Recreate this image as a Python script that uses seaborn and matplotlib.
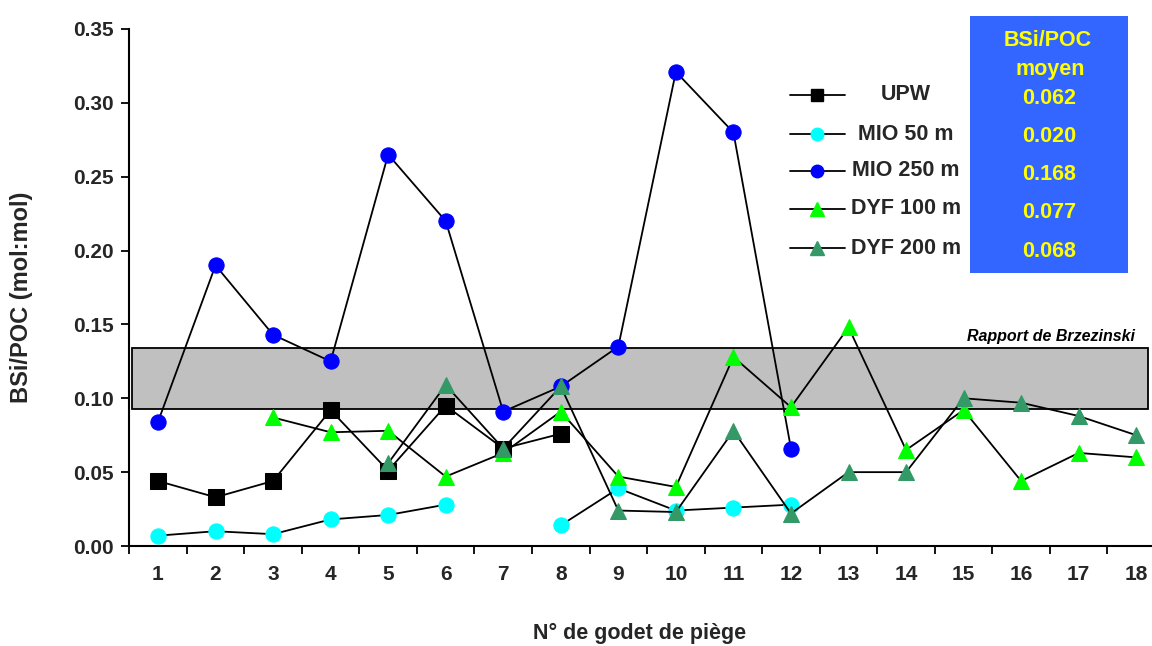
import numpy as np
import pandas as pd
import matplotlib
matplotlib.use("Agg")
import matplotlib.pyplot as plt
from matplotlib.lines import Line2D
from matplotlib.patches import Rectangle
import seaborn as sns

nan = np.nan
godets = list(range(1, 19))
upw = [0.044, 0.033, 0.044, 0.092, 0.051, 0.095, 0.066, 0.076, nan, nan, nan, nan, nan, nan, nan, nan, nan, nan]
mio50 = [0.007, 0.010, 0.008, 0.018, 0.021, 0.028, nan, 0.014, 0.039, 0.024, 0.026, 0.028, nan, nan, nan, nan, nan, nan]
mio250 = [0.084, 0.190, 0.143, 0.125, 0.265, 0.220, 0.091, 0.108, 0.135, 0.321, 0.280, 0.066, nan, nan, nan, nan, nan, nan]
dyf100 = [nan, nan, 0.087, 0.077, 0.078, 0.047, 0.063, 0.091, 0.047, 0.040, 0.128, 0.094, 0.148, 0.065, 0.092, 0.044, 0.063, 0.060]
dyf200 = [nan, nan, nan, nan, 0.056, 0.109, 0.066, 0.108, 0.024, 0.023, 0.078, 0.022, 0.050, 0.050, 0.100, 0.097, 0.088, 0.075]

series_names = ["UPW", "MIO 50 m", "MIO 250 m", "DYF 100 m", "DYF 200 m"]
moyennes = ["0.062", "0.020", "0.168", "0.077", "0.068"]
brzezinski = (0.093, 0.134)

styles = {
    "UPW": dict(marker="s", color="black", ms=11),
    "MIO 50 m": dict(marker="o", color="#00FFFF", ms=11),
    "MIO 250 m": dict(marker="o", color="#0000FF", ms=11),
    "DYF 100 m": dict(marker="^", color="#00FF00", ms=12),
    "DYF 200 m": dict(marker="^", color="#339966", ms=12),
}

values = dict(zip(series_names, [upw, mio50, mio250, dyf100, dyf200]))

sns.set_theme(style="ticks")
plt.rcParams["font.family"] = ["Liberation Sans", "DejaVu Sans"]
plt.rcParams["font.weight"] = "bold"

fig = plt.figure(figsize=(11.52, 6.46), dpi=100)
ax = fig.add_axes([129.2 / 1152, 1 - 546 / 646, (1165 - 129.2) / 1152, (546 - 29) / 646])

# Brzezinski band
ax.add_patch(Rectangle((0.55, brzezinski[0]), 18.2 - 0.55, brzezinski[1] - brzezinski[0],
                       facecolor="#C0C0C0", edgecolor="black", lw=1.3, zorder=1))
ax.text(17.98, brzezinski[1] + 0.003, "Rapport de Brzezinski", ha="right", va="bottom",
        fontsize=11.5, style="italic", fontweight="bold", color="black")

for name in series_names:
    vals = np.array(values[name], dtype=float)
    df = pd.DataFrame({"godet": godets, "val": vals})
    df["seg"] = np.cumsum(np.isnan(vals))
    df = df.dropna()
    st = styles[name]
    sns.lineplot(data=df, x="godet", y="val", units="seg", estimator=None, ax=ax,
                 color="black", lw=1.3, marker=st["marker"], markersize=st["ms"],
                 markerfacecolor=st["color"], markeredgecolor=st["color"], zorder=3,
                 legend=False)

ax.set_xlim(0.5, 18.5)
ax.set_ylim(0, 0.35)
yt = np.arange(0, 0.351, 0.05)
ax.set_yticks(yt)
ax.set_yticklabels([f"{v:.2f}" for v in yt])
ax.set_xticks(godets)
ax.set_xticklabels([str(g) for g in godets])
ax.set_xticks(np.arange(0.5, 18.6, 1), minor=True)
ax.tick_params(axis="x", which="major", length=0, pad=14, labelsize=15)
ax.tick_params(axis="x", which="minor", length=6, width=1.3, direction="out", color="black")
ax.tick_params(axis="y", length=6, width=1.3, direction="out", labelsize=15, color="black", pad=5)
for lab in ax.get_xticklabels() + ax.get_yticklabels():
    lab.set_fontweight("bold")
sns.despine(ax=ax)
for sp in ["left", "bottom"]:
    ax.spines[sp].set_linewidth(1.5)
    ax.spines[sp].set_color("black")
ax.set_xlabel("")
ax.set_ylabel("")

fig.text(640 / 1152, 1 - 633 / 646, "N° de godet de piège", ha="center", va="center",
         fontsize=15.5, fontweight="bold")
fig.text(22 / 1152, 1 - 297 / 646, "BSi/POC (mol:mol)", ha="center", va="center",
         rotation=90, fontsize=17, fontweight="bold")

# legend drawn manually
leg_y = [95, 134, 171, 209, 248]
for name, yp in zip(series_names, leg_y):
    st = styles[name]
    yf = 1 - yp / 646
    fig.add_artist(Line2D([790 / 1152, 845 / 1152], [yf, yf], color="black", lw=1.3,
                          transform=fig.transFigure))
    fig.add_artist(Line2D([817 / 1152], [yf], marker=st["marker"], markersize=st["ms"] - 2,
                          markerfacecolor=st["color"], markeredgecolor=st["color"],
                          linestyle="none", transform=fig.transFigure))
    fig.text(906 / 1152, yf, name, ha="center", va="center", fontsize=15.5, fontweight="bold")

# mean box
fig.add_artist(Rectangle((970 / 1152, 1 - 273 / 646), (1128 - 970) / 1152, (273 - 16) / 646,
                         facecolor="#3366FF", edgecolor="none", transform=fig.transFigure))
fig.text(1048 / 1152, 1 - 41 / 646, "BSi/POC", ha="center", va="center", fontsize=15.5,
         fontweight="bold", color="#FFFF00")
fig.text(1050 / 1152, 1 - 70 / 646, "moyen", ha="center", va="center", fontsize=15.5,
         fontweight="bold", color="#FFFF00")
for m, yp in zip(moyennes, leg_y):
    fig.text(1049 / 1152, 1 - (yp + 3) / 646, m, ha="center", va="center", fontsize=15.5,
             fontweight="bold", color="#FFFF00")

fig.savefig("out.png", dpi=100)
